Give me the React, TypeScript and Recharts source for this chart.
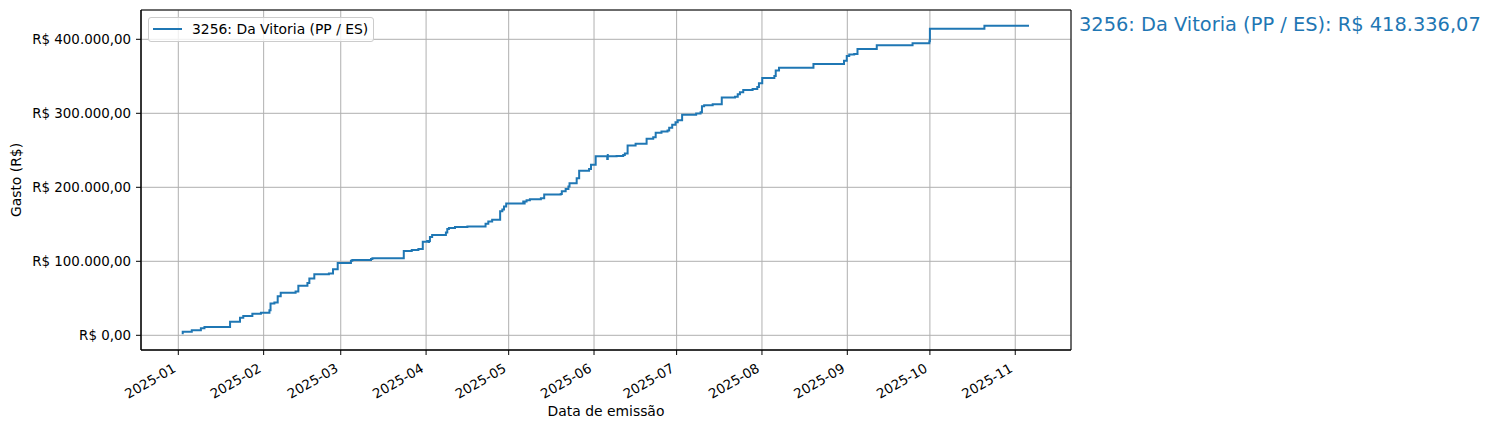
import React from "react";
import { LineChart, Line, XAxis, YAxis, CartesianGrid, Legend, ReferenceArea } from "recharts";

// days since 2025-01-01 for each issued expense, and cumulative spend (R$)
const DAYS = [
  1.6, 1.6, 4.9, 8.2, 9.5, 18.8, 22.4, 23.6, 26.9, 30.0, 33.1, 33.5, 34.9, 36.1, 37.2,
  42.6, 43.6, 46.9, 47.6, 49.4, 54.7, 56.2, 57.9, 62.7, 63.2, 70.0, 70.5, 81.9, 84.8,
  87.2, 88.8, 90.4, 91.1, 91.1, 91.4, 92.2, 97.2, 97.7, 98.3, 100.5, 105.0, 111.6, 112.6,
  114.0, 116.9, 117.7, 118.3, 119.1, 125.3, 125.8, 125.8, 126.5, 127.7, 131.7, 132.9,
  138.9, 139.3, 140.7, 141.7, 142.1, 144.7, 145.6, 149.2, 149.9, 151.6, 155.8, 156.0,
  156.0, 159.2, 161.6, 162.2, 163.2, 166.1, 170.1, 172.5, 173.4, 175.5, 177.7, 178.3,
  179.4, 180.6, 181.4, 183.0, 188.1, 189.7, 190.2, 191.0, 194.1, 197.4, 202.2, 203.2,
  204.0, 205.2, 208.6, 210.3, 210.9, 212.1, 216.5, 217.0, 218.2, 230.7, 241.8, 242.8,
  243.7, 245.5, 246.7, 253.7, 266.7, 272.8, 273.0, 292.8, 309.0,
];
const SPEND = [
  1500, 4900, 6700, 9400, 11200, 18400, 23700, 26000, 29100, 30500, 34000, 43000, 44400,
  52900, 57400, 59200, 66800, 70800, 76700, 82500, 83400, 89200, 97800, 100900, 101800,
  103200, 104000, 113900, 115300, 116600, 126500, 127400, 124800, 127400, 132800, 135500,
  139000, 143500, 144900, 146200, 147100, 150700, 153900, 156100, 167800, 170000, 174000,
  178100, 180800, 176700, 180800, 182600, 183900, 185300, 190200, 191100, 194700, 197800,
  201000, 205500, 212200, 222500, 224700, 230600, 241800, 238200, 244900, 241800, 242200,
  243600, 245800, 256600, 258800, 265600, 267800, 273600, 275400, 276800, 280400, 284500,
  288000, 290700, 297900, 299700, 301500, 309500, 310900, 312200, 321200, 322500, 325700,
  328400, 331500, 332900, 335600, 340500, 347700, 350400, 358000, 361600, 366500, 371000,
  377300, 379300, 380000, 387000, 392100, 394800, 397500, 414100, 418336.07, 418336.07,
];

const MONTH_TICKS = [0, 31, 59, 90, 120, 151, 181, 212, 243, 273, 304];
const MONTH_LABELS = [
  "2025-01", "2025-02", "2025-03", "2025-04", "2025-05", "2025-06",
  "2025-07", "2025-08", "2025-09", "2025-10", "2025-11",
];
const Y_TICKS = [0, 100000, 200000, 300000, 400000];

const SERIES = "3256: Da Vitoria (PP / ES)";
const TOTAL_LABEL = "R$ 418.336,07";

const FONT = "'DejaVu Sans', sans-serif";
const BLUE = "#1f77b4";
const TICK_FONT = 13.4;

const brl = (v: number) => {
  const [int, dec] = v.toFixed(2).split(".");
  return `R$ ${int.replace(/\B(?=(\d{3})+(?!\d))/g, ".")},${dec}`;
};

const MonthTick = (props: any) => {
  const { x, y, payload } = props;
  const label = MONTH_LABELS[MONTH_TICKS.indexOf(payload.value)] ?? "";
  const px = x - 1.5;
  const py = y + 14;
  return (
    <text
      x={px} y={py} textAnchor="end" fontSize={TICK_FONT} fontFamily={FONT} fill="#000"
      transform={`rotate(-30, ${px}, ${py})`}
    >
      {label}
    </text>
  );
};

const LegendBox = () => (
  <div
    style={{
      width: 226, height: 25, boxSizing: "border-box", border: "1px solid #cccccc",
      borderRadius: 3, background: "rgba(255,255,255,0.8)", position: "relative",
      fontFamily: FONT, fontSize: 13.9, color: "#000",
    }}
  >
    <svg width={30} height={4} style={{ position: "absolute", left: 4, top: 9 }}>
      <line x1={0} x2={29} y1={2} y2={2} stroke={BLUE} strokeWidth={2} />
    </svg>
    <span style={{ position: "absolute", left: 43, top: 3, lineHeight: "17px", whiteSpace: "nowrap" }}>
      {SERIES}
    </span>
  </div>
);

export default function App() {
  const rows = DAYS.map((d, i) => ({ day: d, spend: SPEND[i] }));
  const xDomain: [number, number] = [-13.55, 324.25];
  const yDomain: [number, number] = [-19865, 439600];

  return (
    <div style={{ position: "absolute", left: 0, top: 0, width: 1492, height: 430, background: "#fff" }}>
      <LineChart width={1492} height={430} data={rows} margin={{ top: 10, right: 421, bottom: 0, left: 0 }}>
        <CartesianGrid stroke="#b0b0b0" strokeWidth={1} />
        <XAxis
          dataKey="day" type="number" domain={xDomain} ticks={MONTH_TICKS} allowDataOverflow
          height={80} tickSize={5} tick={<MonthTick />}
          axisLine={{ stroke: "#000" }} tickLine={{ stroke: "#000" }}
        />
        <YAxis
          type="number" domain={yDomain} ticks={Y_TICKS} allowDataOverflow width={141}
          tickSize={5} tickMargin={5} tickFormatter={brl}
          tick={{ fontSize: TICK_FONT, fontFamily: FONT, fill: "#000" }}
          axisLine={{ stroke: "#000" }} tickLine={{ stroke: "#000" }}
        />
        <ReferenceArea
          x1={xDomain[0]} x2={xDomain[1]} y1={yDomain[0]} y2={yDomain[1]}
          fill="none" stroke="#000" strokeWidth={1} fillOpacity={0}
        />
        <Line
          dataKey="spend" name={SERIES} type="stepAfter" stroke={BLUE} strokeWidth={2}
          dot={false} activeDot={false} isAnimationActive={false}
        />
        <Legend
          layout="vertical" align="center" verticalAlign="middle"
          content={<LegendBox />}
          wrapperStyle={{ left: 148, top: 17, width: 226, height: 25 }}
        />
      </LineChart>
      <svg width={1492} height={430} style={{ position: "absolute", left: 0, top: 0, pointerEvents: "none" }}>
        <text x={606} y={416} textAnchor="middle" fontSize={13.9} fontFamily={FONT} fill="#000">
          Data de emissão
        </text>
        <text
          x={21} y={180} textAnchor="middle" fontSize={13.9} fontFamily={FONT} fill="#000"
          transform="rotate(-90, 21, 180)"
        >
          Gasto (R$)
        </text>
        <text x={1079} y={31} fontSize={19.4} fontFamily={FONT} fill={BLUE}>
          {`${SERIES}: ${TOTAL_LABEL}`}
        </text>
      </svg>
    </div>
  );
}
